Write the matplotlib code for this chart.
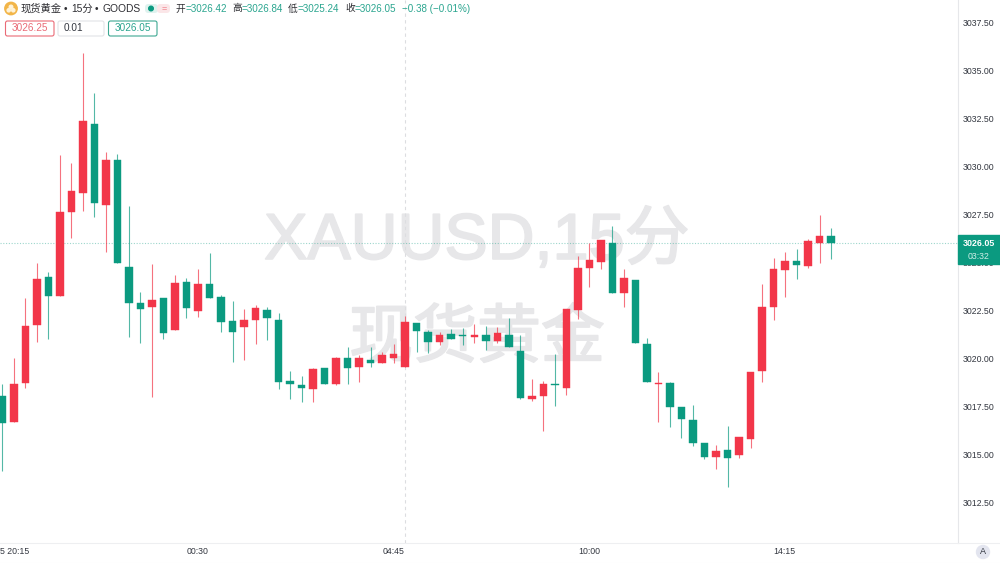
import numpy as np
import matplotlib
matplotlib.use("Agg")
import matplotlib.pyplot as plt
import matplotlib.patheffects as pe
from matplotlib.patches import Rectangle, FancyBboxPatch, Circle

plt.rcParams['font.family'] = ['Liberation Sans', 'Noto Sans CJK SC', 'DejaVu Sans']

base = 3000
opens = [18.11,16.77,18.80,21.80,24.30,23.31,27.68,28.68,32.25,28.06,30.38,24.83,22.93,22.75,23.20,21.52,24.02,22.54,23.95,23.26,
         22.01,21.70,22.08,22.58,22.06,18.89,18.68,18.47,19.55,18.73,20.07,19.63,19.98,19.84,20.07,19.63,21.90,21.44,20.93,21.33,
         21.28,21.19,21.30,20.98,21.30,20.45,17.95,18.12,18.72,18.51,22.60,24.78,25.09,26.06,23.48,24.14,20.81,18.72,18.78,17.54,
         16.86,15.66,14.95,15.30,15.06,15.86,19.42,22.75,24.68,25.13,24.87,26.08,26.42]
highs = [18.73,20.07,23.19,25.04,24.57,30.64,30.21,35.96,33.85,30.80,30.68,28.00,23.50,24.97,23.20,24.40,24.23,24.70,25.53,23.36,
         23.06,22.63,22.84,22.75,22.41,19.41,19.15,19.56,19.56,20.14,20.67,20.24,20.64,20.41,20.80,22.27,21.90,21.54,21.42,21.58,
         21.66,21.85,21.75,21.71,22.15,21.28,18.99,18.90,20.29,22.62,25.39,26.05,26.22,26.95,24.71,24.14,21.11,19.37,18.85,17.54,
         17.62,15.66,15.54,16.55,15.98,19.37,23.93,25.27,25.61,25.75,26.26,27.52,26.84]
lows = [14.22,16.77,18.51,20.93,21.07,23.31,26.34,27.74,27.40,25.61,25.04,21.19,20.85,18.04,21.07,21.52,22.18,22.23,23.19,21.45,
        19.86,19.98,20.83,21.02,18.47,17.94,17.80,17.80,18.73,18.68,18.73,18.85,19.63,19.84,19.81,19.63,20.41,20.33,20.76,21.06,
        20.76,20.85,20.50,20.85,20.64,17.94,17.85,16.29,17.60,18.16,22.10,23.79,24.70,23.48,22.75,20.88,18.84,16.76,16.51,15.94,
        15.51,14.82,14.33,13.36,14.90,15.39,18.85,22.06,23.27,24.21,24.75,25.01,25.24]
closes = [16.72,18.73,21.75,24.18,23.31,27.68,28.77,32.39,28.16,30.38,25.04,22.96,22.65,23.08,21.38,23.97,22.70,23.95,23.19,21.97,
          21.45,22.06,22.67,22.15,18.85,18.72,18.51,19.51,18.73,20.07,19.58,20.07,19.84,20.24,20.29,21.96,21.49,20.93,21.28,21.06,
          21.24,21.26,20.98,21.37,20.64,18.02,18.11,18.72,18.68,22.62,24.75,25.16,26.22,23.48,24.23,20.88,18.84,18.78,17.55,16.93,
          15.68,14.95,15.23,14.90,15.98,19.37,22.74,24.73,25.13,24.94,26.15,26.43,26.05]
# Red marks a rising bar, green a falling one; a few bars have equal open and close
directions = ['d','u','u','u','d','u','u','u','d','u','d','d','d','u','d','u','d','u','d','d',
              'd','u','u','d','d','d','d','u','d','u','d','u','d','u','u','u','d','d','u','d',
              'd','u','d','u','d','d','u','u','d','u','u','u','u','d','u','d','d','u','d','d',
              'd','d','u','d','u','u','u','u','u','d','u','u','d']

price_ticks = [3037.5,3035,3032.5,3030,3027.5,3025,3022.5,3020,3017.5,3015,3012.5]
time_labels = ['5 20:15','00:30','04:45','10:00','14:15']
time_index = [0,17,34,51,68]
last_price = 3026.05

GREEN = '#0b9a80'
RED = '#f23649'
W, H = 1000, 563
AX_R, AX_B = 957.5, 543

fig = plt.figure(figsize=(10, 5.63), dpi=100, facecolor='white')
ax = fig.add_axes([0, 1 - AX_B / H, AX_R / W, AX_B / H])
ax.set_xlim(-0.2, 82.98)
ax.set_ylim(3038.7 - 0.052 * AX_B, 3038.7)
ax.axis('off')

# Overlay in pixel units for interface furniture
ov = fig.add_axes([0, 0, 1, 1], zorder=5)
ov.set_xlim(0, W)
ov.set_ylim(H, 0)
ov.axis('off')
ov.patch.set_alpha(0)

# Watermark
ov_w = fig.add_axes([0, 0, 1, 1], zorder=0)
ov_w.set_xlim(0, W); ov_w.set_ylim(H, 0); ov_w.axis('off')
WM = '#e7e7e9'
for s, yy, fs in [('XAUUSD,15分', 241, 46.7), ('现货黄金', 340, 46)]:
    t = ov_w.text(477, yy, s, fontsize=fs, color=WM, ha='center', va='center')
    t.set_path_effects([pe.withStroke(linewidth=1.3, foreground=WM)])
ax.set_zorder(1)
ax.patch.set_alpha(0)

# Crosshair and last price
ax.axvline(35, color='#dcdde0', lw=0.8, ls=(0, (3, 3)), zorder=1)
ax.axhline(last_price, color=GREEN, lw=0.8, ls=(0, (1, 1.5)), alpha=0.4, zorder=1)

# Candles
x = np.arange(len(opens))
o = base + np.array(opens)
h = base + np.array(highs)
l = base + np.array(lows)
c = base + np.array(closes)
colors = [RED if d == 'u' else GREEN for d in directions]
ax.vlines(x, l, h, colors=colors, lw=0.8, alpha=0.7, zorder=2)
ax.bar(x, np.abs(c - o), bottom=np.minimum(o, c), width=0.65, color=colors,
       edgecolor=colors, linewidth=0.3, zorder=3)

# Price axis
ov.plot([AX_R, AX_R], [0, AX_B], color='#e6e7ea', lw=0.8)
ov.plot([0, W], [AX_B, AX_B], color='#eeeff1', lw=0.8)
ov.plot([0, W], [562.5, 562.5], color='#eeeff1', lw=0.8)
to_px = lambda v: (3038.7 - v) / 0.052
for p in price_ticks:
    ov.text(963, to_px(p), f'{p:.2f}', fontsize=6.3, color='#333740', va='center', ha='left')
ov.add_patch(Rectangle((AX_R, 235), W - AX_R, 29, color=GREEN, zorder=6))
ov.text(978.5, 243, f'{last_price:.2f}', fontsize=6.4, color='white', weight='bold',
        ha='center', va='center', zorder=7)
ov.text(978.5, 256.5, '03:32', fontsize=6.3, color='#cfeee7', ha='center', va='center', zorder=7)

# Time axis
for i, t in zip(time_index, time_labels):
    if i == 0:
        ov.text(0, 552, t, fontsize=6.3, color='#333740', ha='left', va='center')
    else:
        ov.text(2.3 + 11.505 * i, 552, t, fontsize=6.3, color='#333740', ha='center', va='center')
ov.add_patch(Circle((983, 552), 6.5, color='#e3e5ef'))
ov.text(983, 552, 'A', fontsize=6.5, color='#333740', ha='center', va='center', zorder=7)

# Header
ov.add_patch(Circle((11, 8.5), 6.2, color='#f2b548'))
ov.add_patch(Circle((11, 7), 1.8, color='#fff3d8'))
ov.add_patch(Circle((8.7, 10.3), 1.6, color='#fff3d8'))
ov.add_patch(Circle((13.3, 10.3), 1.6, color='#fff3d8'))
ov.text(21, 8.5, '现货黄金', fontsize=7.4, color='#2e2e33', va='center', ha='left')
ov.text(64, 8.5, '•', fontsize=7.4, color='#2e2e33', va='center', ha='left')
ov.text(71, 8.5, '15分', fontsize=7.4, color='#2e2e33', va='center', ha='left')
ov.text(95, 8.5, '•', fontsize=7.4, color='#2e2e33', va='center', ha='left')
ov.text(102.5, 8.5, 'GOODS', fontsize=7.4, color='#2e2e33', va='center', ha='left')
ov.add_patch(FancyBboxPatch((145, 4), 13, 9, boxstyle='round,pad=0,rounding_size=3.5', fc='#dff2ee', ec='none'))
ov.add_patch(FancyBboxPatch((157, 4), 13, 9, boxstyle='round,pad=0,rounding_size=3.5', fc='#fbe6e8', ec='none'))
ov.add_patch(Circle((151, 8.5), 2.3, color=GREEN, zorder=4))
ov.text(164, 8.2, '=', fontsize=6.5, color='#f0808a', ha='center', va='center', zorder=4)

for lbl, xl, val in [('开', 176, '3026.42'), ('高', 232, '3026.84'), ('低', 288, '3025.24'), ('收', 345, '3026.05')]:
    ov.text(xl, 8.5, lbl, fontsize=7.0, color='#2e2e33', va='center', ha='left')
    ov.text(xl + 9.5, 8.5, '=' + val, fontsize=7.1, color='#2aa58f', va='center', ha='left')
ov.text(402, 8.5, '−0.38 (−0.01%)', fontsize=7.1, color='#2aa58f', va='center', ha='left')

for (x0, x1, ec, tc, s, ha, tx) in [(5.5, 54, '#ea6a76', '#ea6a76', '3026.25', 'center', 29.5),
                                    (58, 104, '#e2e3e6', '#333740', '0.01', 'left', 64),
                                    (108.5, 157, '#3da892', '#2aa58f', '3026.05', 'center', 132.7)]:
    ov.add_patch(FancyBboxPatch((x0, 21), x1 - x0, 15, boxstyle='round,pad=0,rounding_size=2',
                                fc='white', ec=ec, lw=0.8))
    ov.text(tx, 28.3, s, fontsize=7.2, color=tc, ha=ha, va='center')

fig.savefig('out.png', dpi=100)
